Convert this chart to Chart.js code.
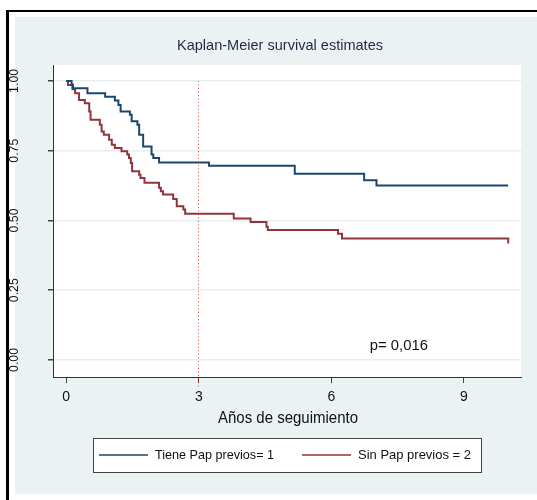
<!DOCTYPE html>
<html>
<head>
<meta charset="utf-8">
<script src="https://cdn.jsdelivr.net/npm/chart.js@4.4.1/dist/chart.umd.min.js"></script>
<style>
  html, body { margin: 0; padding: 0; background: #fff; }
</style>
</head>
<body>
<canvas id="km" width="537" height="500"></canvas>
<script>
// Kaplan-Meier curves.
// Each pair is (time in years, survival after the drop at that time).

const titleText = "Kaplan-Meier survival estimates";
const xTitle    = "Años de seguimiento";
const xTicks    = [0, 3, 6, 9];
const yTicks    = [0, 0.25, 0.5, 0.75, 1];
const yLabels   = ["0.00", "0.25", "0.50", "0.75", "1.00"];

const seriesNames = ["Tiene Pap previos= 1", "Sin Pap previos = 2"];

const papTimes = [0, 0.12, 0.15, 0.48, 0.88, 1.10, 1.18, 1.23, 1.44, 1.48, 1.61, 1.65,
                  1.74, 1.93, 1.97, 2.10, 3.23, 5.17, 6.74, 7.02, 10.0];
const papSurv  = [1.0, 0.987, 0.974, 0.956, 0.943, 0.930, 0.914, 0.890, 0.879, 0.855, 0.843, 0.807,
                  0.765, 0.736, 0.724, 0.708, 0.696, 0.667, 0.644, 0.625, 0.625];

const noPapTimes = [0, 0.04, 0.14, 0.20, 0.29, 0.42, 0.52, 0.55, 0.76, 0.80, 0.85, 0.97,
                    1.03, 1.10, 1.25, 1.38, 1.42, 1.46, 1.49, 1.65, 1.68, 1.77, 2.10, 2.14,
                    2.19, 2.42, 2.50, 2.65, 2.69, 3.79, 4.17, 4.53, 4.56, 6.15, 6.24, 10.0, 10.0];
const noPapSurv  = [1.0, 0.985, 0.970, 0.956, 0.932, 0.920, 0.890, 0.861, 0.843, 0.819, 0.807, 0.789,
                    0.771, 0.760, 0.748, 0.736, 0.724, 0.706, 0.676, 0.664, 0.652, 0.635, 0.617, 0.605,
                    0.593, 0.577, 0.551, 0.539, 0.524, 0.507, 0.494, 0.477, 0.466, 0.452, 0.435, 0.435, 0.417];

const refLineX = 3;          // dotted marker at 3 years
const pText    = "p= 0,016";
const pAt      = [6.87, 0.05];

const FONT = "'Liberation Sans', Arial, sans-serif";
const BLUE = "#1a476f";
const RED  = "#90353b";
const BG   = "#eaf2f3";

const toXY = (ts, ss) => ts.map((t, i) => ({ x: t, y: ss[i] }));

// the picture uses a narrow Arial, so squeeze text to the width it has there
function narrowText(ctx, text, x, y, size, width, align) {
  ctx.save();
  ctx.font = size + "px " + FONT;
  const k = width / ctx.measureText(text).width;
  ctx.translate(x, y);
  ctx.scale(k, 1);
  ctx.textAlign = align;
  ctx.textBaseline = "middle";
  ctx.fillText(text, 0, 0);
  ctx.restore();
}

const stataLook = {
  id: "stataLook",
  beforeDraw(chart) {
    const { ctx, chartArea: a } = chart;
    ctx.save();
    ctx.fillStyle = "#fff";
    ctx.fillRect(0, 0, chart.width, chart.height);
    ctx.fillStyle = BG;
    ctx.fillRect(15, 17, chart.width - 15, 477);
    ctx.fillStyle = "#fff";
    ctx.fillRect(a.left, a.top, a.right - a.left, a.bottom - a.top);
    ctx.fillStyle = "#000";
    ctx.fillRect(6, 10, 3, chart.height - 10);
    ctx.fillRect(6, 10, chart.width - 6, 2);
    ctx.restore();
  },
  afterDatasetsDraw(chart) {
    const { ctx, scales: { x, y } } = chart;
    ctx.save();
    ctx.strokeStyle = "rgba(230, 40, 40, 0.9)";
    ctx.lineWidth = 1;
    ctx.setLineDash([1, 2.5]);
    ctx.beginPath();
    const px = Math.round(x.getPixelForValue(refLineX)) - 0.5;
    ctx.moveTo(px, y.getPixelForValue(1));
    ctx.lineTo(px, y.getPixelForValue(-0.096));
    ctx.stroke();
    ctx.setLineDash([]);
    ctx.fillStyle = "#111";
    narrowText(ctx, pText, x.getPixelForValue(pAt[0]), y.getPixelForValue(pAt[1]), 14, 58, "left");
    ctx.restore();
  },
  afterDraw(chart) {
    const { ctx, scales: { y } } = chart;
    ctx.save();
    ctx.fillStyle = "#1f2a44";
    narrowText(ctx, titleText, 280, 46, 15, 206, "center");

    ctx.fillStyle = "#111";
    narrowText(ctx, xTitle, 288, 418, 17, 140, "center");

    yTicks.forEach((v, i) => {
      ctx.save();
      ctx.translate(14, y.getPixelForValue(v));
      ctx.rotate(-Math.PI / 2);
      narrowText(ctx, yLabels[i], 0, 0, 13, 24, "center");
      ctx.restore();
    });

    // legend box
    ctx.fillStyle = "#fff";
    ctx.fillRect(93, 438, 388, 34);
    ctx.strokeStyle = "#444";
    ctx.lineWidth = 1;
    ctx.strokeRect(93.5, 438.5, 388, 34);
    const items = [[99, BLUE, 119], [302, RED, 113]];
    items.forEach(([lx, col, w], i) => {
      ctx.strokeStyle = col;
      ctx.lineWidth = 1.5;
      ctx.beginPath();
      ctx.moveTo(lx, 455);
      ctx.lineTo(lx + 49, 455);
      ctx.stroke();
      ctx.fillStyle = "#111";
      narrowText(ctx, seriesNames[i], lx + 56, 455, 13, w, "left");
    });
    ctx.restore();
  },
};

new Chart(document.getElementById("km"), {
  type: "line",
  data: {
    datasets: [
      {
        label: seriesNames[0],
        data: toXY(papTimes, papSurv),
        borderColor: BLUE,
        borderWidth: 2,
        stepped: true,
        pointRadius: 0,
        fill: false,
      },
      {
        label: seriesNames[1],
        data: toXY(noPapTimes, noPapSurv),
        borderColor: RED,
        borderWidth: 2,
        stepped: true,
        pointRadius: 0,
        fill: false,
      },
    ],
  },
  options: {
    responsive: false,
    animation: false,
    devicePixelRatio: 1,
    layout: { padding: { left: 0, right: 16, top: 65, bottom: 0 } },
    plugins: {
      legend: { display: false },
      title: { display: false },
      tooltip: { enabled: false },
    },
    scales: {
      x: {
        type: "linear",
        min: -0.3,
        max: 10.29,
        afterBuildTicks: (s) => { s.ticks = xTicks.map((v) => ({ value: v })); },
        afterFit: (s) => { s.height = 123; },
        ticks: { color: "#111", font: { family: FONT, size: 14 }, padding: 6, maxRotation: 0 },
        grid: { drawOnChartArea: false, drawTicks: true, tickLength: 6, tickColor: "#444", lineWidth: 1 },
        border: { color: "#333", width: 1 },
      },
      y: {
        type: "linear",
        min: -0.061,
        max: 1.057,
        afterBuildTicks: (s) => { s.ticks = yTicks.map((v) => ({ value: v })); },
        afterFit: (s) => { s.width = 53; },
        ticks: { display: false },
        grid: { color: "#e6eef0", lineWidth: 1.5, drawTicks: true, tickLength: 5, tickColor: "#444" },
        border: { color: "#333", width: 1 },
      },
    },
  },
  plugins: [stataLook],
});
</script>
</body>
</html>
